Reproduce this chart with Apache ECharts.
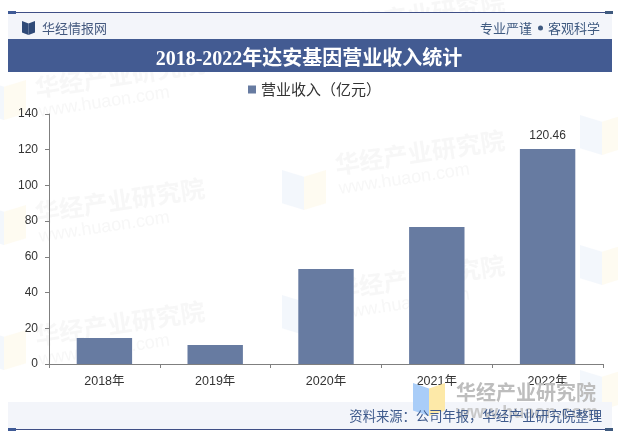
<!DOCTYPE html>
<html>
<head>
<meta charset="utf-8">
<style>html,body{margin:0;padding:0;background:#fff}#c{width:618px;height:438px}</style>
<script src="https://cdn.jsdelivr.net/npm/echarts@6/dist/echarts.min.js"></script>
</head>
<body>
<div id="c"></div>
<script>
const categories = ['2018年','2019年','2020年','2021年','2022年'];
const revenue = [14.6, 10.6, 53.2, 76.7, 120.46];
const labelledYear = '2022年';
const seriesName = '营业收入（亿元）';
const titleText = '2018-2022年达安基因营业收入统计';
const sourceText = '资料来源：公司年报，华经产业研究院整理';
const brandText = '华经情报网';
const mottoLeft = '专业严谨';
const mottoRight = '客观科学';
const wmText = '华经产业研究院';
const wmUrl = 'www.huaon.com';
const wmTextSpots = [[35,88],[35,213],[35,336],[335,165],[335,290],[335,27]];
const wmLogoSpots = [[-18,205],[-18,330],[-18,80],[282,170],[282,295],[580,115],[580,245],[580,370]];

const cjk = '"Noto Sans CJK SC","Liberation Sans",sans-serif';
const g = [];
function logo(x,y,w,h,c1,c2,op,z){
  const m=w/2;
  g.push({type:'polygon',z,silent:true,style:{fill:c1,opacity:op},shape:{points:[[x,y],[x+m,y+h*0.17],[x+m,y+h],[x,y+h*0.83]]}});
  g.push({type:'polygon',z,silent:true,style:{fill:c2,opacity:op},shape:{points:[[x+m,y+h*0.17],[x+w,y],[x+w,y+h*0.83],[x+m,y+h]]}});
}
wmLogoSpots.forEach(p=>logo(p[0],p[1],44,40,'#cfe0f5','#fbeec8',0.25,0));
wmTextSpots.forEach(p=>{
  g.push({type:'text',z:0,silent:true,x:p[0],y:p[1],rotation:8.5*Math.PI/180,originX:0,originY:0,
    style:{text:wmText,fill:'#e6e6e6',opacity:0.3,font:'bold 24.5px '+cjk,textAlign:'left',textVerticalAlign:'middle'}});
  g.push({type:'text',z:0,silent:true,x:p[0]+4,y:p[1]+24,rotation:8.5*Math.PI/180,originX:0,originY:0,
    style:{text:wmUrl,fill:'#e6e6e6',opacity:0.3,font:'18px "Liberation Sans"',textAlign:'left',textVerticalAlign:'middle'}});
});
// header
g.push({type:'rect',z:1,silent:true,shape:{x:8,y:13,width:604,height:26},style:{fill:'#f3f5fa'}});
g.push({type:'rect',z:1,silent:true,shape:{x:8,y:39,width:604,height:33},style:{fill:'#435b92'}});
g.push({type:'rect',z:3,silent:true,shape:{x:8,y:12,width:605,height:1},style:{fill:'#3f4f86'}});
g.push({type:'rect',z:3,silent:true,shape:{x:8,y:11,width:8,height:3},style:{fill:'#3f5a96'}});
g.push({type:'rect',z:3,silent:true,shape:{x:605,y:11,width:8,height:3},style:{fill:'#3f5a7e'}});
logo(22,21,13,14,'#2f4a78','#2f4a78',1,3);
g.push({type:'text',z:3,silent:true,x:42,y:28,style:{text:brandText,fill:'#44597f',font:'13px '+cjk,textAlign:'left',textVerticalAlign:'middle'}});
g.push({type:'text',z:3,silent:true,x:600,y:28,style:{text:mottoRight,fill:'#3f5a80',font:'13px '+cjk,textAlign:'right',textVerticalAlign:'middle'}});
g.push({type:'text',z:3,silent:true,x:480,y:28,style:{text:mottoLeft,fill:'#3f5a80',font:'13px '+cjk,textAlign:'left',textVerticalAlign:'middle'}});
g.push({type:'circle',z:3,silent:true,shape:{cx:540.5,cy:28,r:2.5},style:{fill:'#3f5a80'}});
// footer watermark and band
g.push({type:'rect',z:1,silent:true,shape:{x:8,y:402,width:604,height:27},style:{fill:'#f3f5fa'}});
logo(413,383,32,33,'#a9cdf8','#fde9a8',1,4);
g.push({type:'text',z:4,silent:true,x:456,y:392,style:{text:wmText,fill:'#bdbdbd',font:'bold 20px '+cjk,textAlign:'left',textVerticalAlign:'middle'}});
g.push({type:'text',z:4,silent:true,x:456,y:413,style:{text:wmUrl,fill:'#c8c8c8',font:'bold 18px "Liberation Sans"',textAlign:'left',textVerticalAlign:'middle'}});
g.push({type:'text',z:5,silent:true,x:602,y:416,style:{text:sourceText,fill:'#3e5a8c',font:'13.3px '+cjk,textAlign:'right',textVerticalAlign:'middle'}});
g.push({type:'rect',z:5,silent:true,shape:{x:8,y:429,width:605,height:1},style:{fill:'#3f4f86'}});
g.push({type:'rect',z:5,silent:true,shape:{x:8,y:428,width:8,height:3},style:{fill:'#3f5a96'}});
g.push({type:'rect',z:5,silent:true,shape:{x:605,y:428,width:8,height:3},style:{fill:'#3f5a7e'}});

const chart = echarts.init(document.getElementById('c'),null,{renderer:'canvas'});
chart.setOption({
  animation:false,
  backgroundColor:'#fff',
  title:{text:titleText,left:'center',top:50,padding:0,z:6,
    textStyle:{color:'#fff',fontSize:20,fontWeight:'bold',fontFamily:'"Liberation Serif","Noto Sans CJK SC",serif'}},
  legend:{data:[seriesName],top:82,left:248,padding:0,itemWidth:8,itemHeight:8,itemGap:1,icon:'rect',
    textStyle:{color:'#333',fontSize:15,fontFamily:cjk,padding:[0,0,0,0]}},
  grid:{left:49,right:15,top:114,bottom:74,containLabel:false},
  xAxis:{type:'category',data:categories,
    axisLine:{lineStyle:{color:'#7f7f7f',width:1}},
    axisTick:{show:true,length:4,lineStyle:{color:'#7f7f7f'}},
    axisLabel:{color:'#333',fontSize:12.5,margin:11,fontFamily:'"Liberation Sans","Noto Sans CJK SC"'}},
  yAxis:{type:'value',min:0,max:140,interval:20,
    splitLine:{show:false},
    axisLine:{show:true,lineStyle:{color:'#7f7f7f',width:1}},
    axisTick:{show:true,length:4,lineStyle:{color:'#7f7f7f'}},
    axisLabel:{color:'#333',fontSize:12,margin:11,fontFamily:'"Liberation Sans"'}},
  graphic:{elements:g},
  series:[{name:seriesName,type:'bar',barWidth:'50%',
    itemStyle:{color:'#677ba1'},
    data:revenue.map((v,i)=>categories[i]===labelledYear
      ?{value:v,label:{show:true,position:'top',distance:7,color:'#333',fontSize:12,fontFamily:'"Liberation Sans"'}}
      :v)}]
});
</script>
</body>
</html>
